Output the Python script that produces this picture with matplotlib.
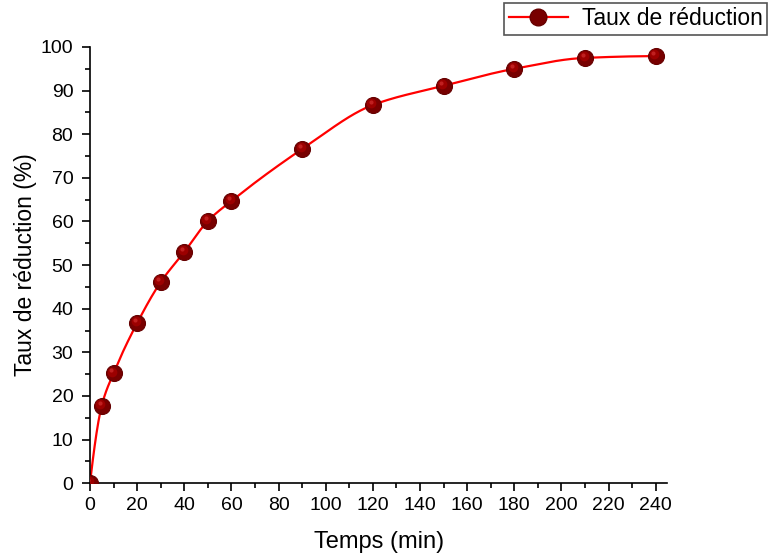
import numpy as np
import matplotlib
matplotlib.use("Agg")
import matplotlib.pyplot as plt
from matplotlib.ticker import MultipleLocator, AutoMinorLocator
from matplotlib.lines import Line2D
import matplotlib.transforms as mtransforms

plt.rcParams['font.family'] = ['Liberation Sans', 'DejaVu Sans']

# Reduction kinetics
temps = [0, 5, 10, 20, 30, 40, 50, 60, 90, 120, 150, 180, 210, 240]
taux = [0, 17.8, 25.2, 36.7, 46.1, 53.0, 60.1, 64.7, 76.6, 86.7, 91.1, 95.0, 97.5, 97.9]


def pchip(x, y, xs):
    """Shape-preserving piecewise cubic Hermite interpolation."""
    x = np.asarray(x, float)
    y = np.asarray(y, float)
    h = np.diff(x)
    d = np.diff(y) / h
    n = len(x)
    m = np.zeros(n)
    for k in range(1, n - 1):
        if d[k - 1] * d[k] > 0:
            w1 = 2 * h[k] + h[k - 1]
            w2 = h[k] + 2 * h[k - 1]
            m[k] = (w1 + w2) / (w1 / d[k - 1] + w2 / d[k])
    m[0] = ((2 * h[0] + h[1]) * d[0] - h[0] * d[1]) / (h[0] + h[1])
    if np.sign(m[0]) != np.sign(d[0]):
        m[0] = 0
    m[-1] = ((2 * h[-1] + h[-2]) * d[-1] - h[-1] * d[-2]) / (h[-1] + h[-2])
    if np.sign(m[-1]) != np.sign(d[-1]):
        m[-1] = 0
    idx = np.clip(np.searchsorted(x, xs) - 1, 0, n - 2)
    t = (xs - x[idx]) / h[idx]
    h00 = 2 * t**3 - 3 * t**2 + 1
    h10 = t**3 - 2 * t**2 + t
    h01 = -2 * t**3 + 3 * t**2
    h11 = t**3 - t**2
    return (h00 * y[idx] + h10 * h[idx] * m[idx]
            + h01 * y[idx + 1] + h11 * h[idx] * m[idx + 1])


fig = plt.figure(figsize=(7.69, 5.56), dpi=100)
ax = fig.add_axes([0.117, 0.131, 0.751, 0.7845])

xs = np.linspace(temps[0], temps[-1], 600)
ax.plot(xs, pchip(temps, taux, xs), color='red', lw=1.6, zorder=2)

# shaded spheres
ax.plot(temps, taux, ls='none', marker='o', ms=11.5, mfc='#780000',
        mec='#660000', mew=0.8, zorder=3)
hl = mtransforms.offset_copy(ax.transData, fig=fig, x=-1.0, y=1.2, units='points')
ax.plot(temps, taux, ls='none', marker='o', ms=7, mfc='#9c0000',
        mec='none', zorder=4, transform=hl)
hl2 = mtransforms.offset_copy(ax.transData, fig=fig, x=-1.6, y=2.0, units='points')
ax.plot(temps, taux, ls='none', marker='o', ms=3, mfc='#c02020',
        mec='none', zorder=5, transform=hl2)

ax.set_xlim(0, 245)
ax.set_ylim(0, 100)
ax.xaxis.set_major_locator(MultipleLocator(20))
ax.yaxis.set_major_locator(MultipleLocator(10))
ax.xaxis.set_minor_locator(AutoMinorLocator(2))
ax.yaxis.set_minor_locator(AutoMinorLocator(2))

for s in ['top', 'right']:
    ax.spines[s].set_visible(False)
for s in ['left', 'bottom']:
    ax.spines[s].set_linewidth(1.2)
ax.tick_params(which='major', direction='out', length=6, width=1.2, labelsize=14)
ax.tick_params(which='minor', direction='out', length=3.5, width=1.2)
ax.tick_params(axis='y', which='major', pad=6)
ax.tick_params(axis='x', which='major', pad=4)

ax.set_xlabel('Temps (min)', fontsize=17, labelpad=12)
ax.set_ylabel('Taux de réduction (%)', fontsize=16.5, labelpad=3)

handle = Line2D([], [], color='red', lw=1.6, marker='o', ms=12,
                mfc='#780000', mec='#660000')
leg = fig.legend([handle], ['Taux de réduction'], loc='upper right',
                 bbox_to_anchor=(0.998, 0.995), fontsize=16.5, frameon=True,
                 fancybox=False, edgecolor='#555555', framealpha=1,
                 borderpad=0.2, handlelength=2.6, handletextpad=0.6,
                 borderaxespad=0)
leg.get_frame().set_linewidth(1.2)

fig.savefig('out.png', dpi=100)
